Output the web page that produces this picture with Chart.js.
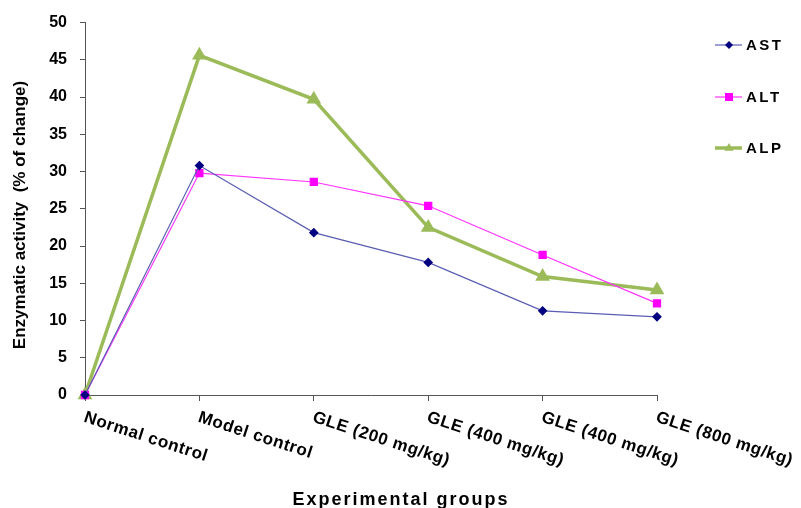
<!DOCTYPE html>
<html>
<head>
<meta charset="utf-8">
<script src="https://cdn.jsdelivr.net/npm/chart.js@4/dist/chart.umd.min.js"></script>
<style>
  html, body { margin: 0; padding: 0; background: #fff; }
  #wrap { width: 801px; height: 508px; }
</style>
</head>
<body>
<div id="wrap"><canvas id="c" width="801" height="508"></canvas></div>
<script>
const categories = ["Normal control", "Model control", "GLE (200 mg/kg)", "GLE (400 mg/kg)", "GLE (400 mg/kg)", "GLE (800 mg/kg)"];
const astValues = [0, 30.8, 21.8, 17.8, 11.3, 10.5];
const altValues = [0, 29.8, 28.6, 25.4, 18.8, 12.3];
const alpValues = [0, 45.6, 39.7, 22.5, 15.9, 14.1];
const yTicks = [0, 5, 10, 15, 20, 25, 30, 35, 40, 45, 50];
const xTitle = "Experimental groups";
const yTitle = "Enzymatic activity  (% of change)";

const FONT = "'Liberation Sans', Arial, sans-serif";

const customText = {
  id: 'customText',
  afterDraw(chart) {
    const ctx = chart.ctx;
    const xs = chart.scales.x;
    const area = chart.chartArea;
    ctx.save();
    // rotated x labels
    ctx.fillStyle = '#000';
    ctx.font = 'bold 17px ' + FONT;
    ctx.letterSpacing = '0.6px';
    ctx.textAlign = 'left';
    ctx.textBaseline = 'top';
    categories.forEach((lab, i) => {
      const px = xs.getPixelForValue(i);
      ctx.save();
      ctx.translate(px + 2, area.bottom + 14);
      ctx.rotate(18 * Math.PI / 180);
      ctx.fillText(lab, 0, 0);
      ctx.restore();
    });
    // x title
    ctx.font = 'bold 18px ' + FONT;
    ctx.letterSpacing = '2px';
    ctx.textAlign = 'center';
    ctx.textBaseline = 'alphabetic';
    ctx.fillText(xTitle, 401, 505);
    // y title
    ctx.letterSpacing = '0px';
    ctx.font = 'bold 17px ' + FONT;
    ctx.save();
    ctx.translate(25, 215);
    ctx.rotate(-Math.PI / 2);
    ctx.textAlign = 'center';
    ctx.textBaseline = 'alphabetic';
    ctx.fillText(yTitle, 0, 0);
    ctx.restore();
    // legend
    const ys = [45, 97, 148];
    chart.data.datasets.forEach((ds, i) => {
      const y = ys[i];
      ctx.strokeStyle = ds.borderColor;
      ctx.lineWidth = ds.borderWidth;
      ctx.beginPath();
      ctx.moveTo(715, y);
      ctx.lineTo(742, y);
      ctx.stroke();
      ctx.fillStyle = ds.pointBackgroundColor;
      const r = ds.pointRadius;
      ctx.beginPath();
      if (ds.pointStyle === 'rectRot') {
        ctx.moveTo(729, y - r); ctx.lineTo(729 + r, y); ctx.lineTo(729, y + r); ctx.lineTo(729 - r, y);
      } else if (ds.pointStyle === 'rect') {
        ctx.rect(729 - r * 0.8, y - r * 0.8, r * 1.6, r * 1.6);
      } else {
        ctx.moveTo(729, y - r); ctx.lineTo(729 + r * 0.9, y + r * 0.55); ctx.lineTo(729 - r * 0.9, y + r * 0.55);
      }
      ctx.closePath();
      ctx.fill();
      ctx.fillStyle = '#000';
      ctx.font = 'bold 15px ' + FONT;
      ctx.letterSpacing = '2.5px';
      ctx.textAlign = 'left';
      ctx.textBaseline = 'middle';
      ctx.fillText(ds.label, 746, y + 1);
    });
    ctx.restore();
  }
};

new Chart(document.getElementById('c'), {
  type: 'line',
  data: {
    labels: categories,
    datasets: [
      { label: 'AST', data: astValues, borderColor: '#5a5db3', backgroundColor: '#000080',
        pointBackgroundColor: '#000080', pointBorderColor: '#000080', borderWidth: 1.2,
        pointStyle: 'rectRot', pointRadius: 4, tension: 0, clip: false },
      { label: 'ALT', data: altValues, borderColor: '#ff33ff', backgroundColor: '#ff00ff',
        pointBackgroundColor: '#ff00ff', pointBorderColor: '#ff00ff', borderWidth: 1.2,
        pointStyle: 'rect', pointRadius: 5, tension: 0, clip: false },
      { label: 'ALP', data: alpValues, borderColor: '#9bbb59', backgroundColor: '#9bbb59',
        pointBackgroundColor: '#9bbb59', pointBorderColor: '#9bbb59', borderWidth: 3.5,
        pointStyle: 'triangle', pointRadius: 5, tension: 0, clip: false }
    ]
  },
  options: {
    responsive: false,
    animation: false,
    events: [],
    layout: { padding: { left: 0, top: 21, right: 144, bottom: 0 } },
    plugins: { legend: { display: false }, tooltip: { enabled: false } },
    scales: {
      x: {
        type: 'category',
        offset: false,
        grid: { display: true, drawOnChartArea: false, drawTicks: true, tickLength: 6, color: '#555' },
        border: { display: true, color: '#555', width: 1 },
        ticks: { display: false },
        afterFit(scale) { scale.height = 113; }
      },
      y: {
        min: 0, max: 50,
        afterBuildTicks(scale) { scale.ticks = yTicks.map(v => ({ value: v })); },
        grid: { display: true, drawOnChartArea: false, drawTicks: true, tickLength: 5, color: '#555' },
        border: { display: true, color: '#555', width: 1 },
        ticks: { color: '#000', font: { family: FONT, size: 16, weight: 'bold' }, padding: 13 },
        afterFit(scale) { scale.width = 85; }
      }
    }
  },
  plugins: [customText]
});
</script>
</body>
</html>
